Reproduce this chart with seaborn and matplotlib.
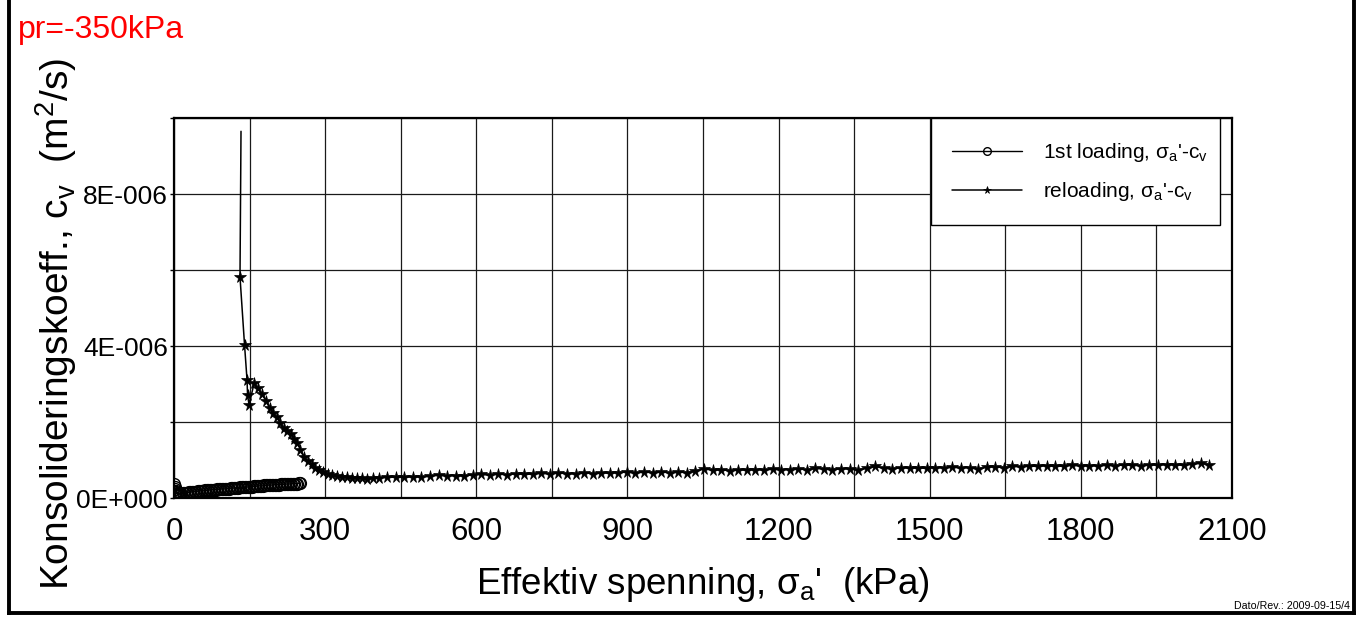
import matplotlib
matplotlib.use("Agg")
import matplotlib.pyplot as plt
from matplotlib.lines import Line2D
from matplotlib.patches import Rectangle
from matplotlib.ticker import FixedLocator, FixedFormatter, MultipleLocator
import seaborn as sns
import pandas as pd

# ---- data: effective stress (kPa) and consolidation coefficient (1e-6 m2/s) ----
load_stress = [0, 1, 2, 3, 4, 5, 6, 8, 10, 12,
               14, 17, 20, 23, 26, 29, 32, 35, 38, 41,
               44, 47, 50, 53, 56, 59, 62, 65, 68, 71,
               74, 77, 80, 83, 86, 89, 92, 95, 98, 101,
               104, 107, 110, 113, 116, 119, 122, 125, 128, 131,
               134, 137, 140, 143, 146, 149, 152, 155, 158, 161,
               164, 167, 170, 173, 176, 179, 182, 185, 188, 191,
               194, 197, 200, 203, 206, 209, 212, 215, 218, 221,
               224, 227, 230, 233, 236, 239, 242, 245, 248, 251]
load_cv = [0.36, 0.30, 0.24, 0.19, 0.15, 0.13, 0.11, 0.10, 0.10, 0.11,
           0.11, 0.12, 0.13, 0.13, 0.14, 0.15, 0.15, 0.16, 0.16, 0.17,
           0.17, 0.18, 0.18, 0.19, 0.19, 0.19, 0.20, 0.20, 0.21, 0.21,
           0.21, 0.22, 0.22, 0.22, 0.23, 0.23, 0.23, 0.24, 0.24, 0.24,
           0.25, 0.25, 0.25, 0.26, 0.26, 0.26, 0.27, 0.27, 0.27, 0.28,
           0.28, 0.28, 0.29, 0.29, 0.29, 0.30, 0.30, 0.30, 0.31, 0.31,
           0.31, 0.32, 0.32, 0.32, 0.32, 0.33, 0.33, 0.33, 0.34, 0.34,
           0.34, 0.34, 0.35, 0.35, 0.35, 0.35, 0.36, 0.36, 0.36, 0.36,
           0.37, 0.37, 0.37, 0.37, 0.38, 0.38, 0.38, 0.38, 0.39, 0.39]

reload_stress = [133, 131, 140, 145, 146, 149, 159, 166, 175, 183,
                 190, 197, 204, 211, 218, 225, 232, 239, 245, 251,
                 258, 265, 273, 280, 288, 296, 305, 314, 323, 333,
                 343, 353, 363, 373, 384, 395,
                 406, 423, 440, 457, 474, 491, 508, 525, 542, 559,
                 576, 593, 610, 627, 644, 661, 678, 695, 712, 729,
                 746, 763, 780, 797, 814, 831, 848, 865, 882, 899,
                 916, 933, 950, 967, 984, 1001, 1018, 1035, 1052, 1069,
                 1086, 1103, 1120, 1137, 1154, 1171, 1188, 1205, 1222, 1239,
                 1256, 1273, 1290, 1307, 1324, 1341, 1358, 1375, 1392, 1409,
                 1426, 1443, 1460, 1477, 1494, 1511, 1528, 1545, 1562, 1579,
                 1596, 1613, 1630, 1647, 1664, 1681, 1698, 1715, 1732, 1749,
                 1766, 1783, 1800, 1817, 1834, 1851, 1868, 1885, 1902, 1919,
                 1936, 1953, 1970, 1987, 2004, 2021, 2038, 2055]
reload_cv = [9.65, 5.82, 4.03, 3.10, 2.71, 2.45, 3.02, 2.89, 2.73, 2.55,
             2.36, 2.24, 2.12, 1.98, 1.83, 1.76, 1.68, 1.56, 1.44, 1.27,
             1.07, 0.98, 0.89, 0.80, 0.74, 0.69, 0.64, 0.60, 0.58, 0.56,
             0.55, 0.53, 0.52, 0.52, 0.51, 0.52,
             0.53, 0.54, 0.55, 0.54, 0.56, 0.55, 0.57, 0.60, 0.58, 0.59,
             0.58, 0.61, 0.62, 0.60, 0.63, 0.61, 0.64, 0.62, 0.63, 0.65,
             0.63, 0.66, 0.64, 0.63, 0.67, 0.64, 0.66, 0.65, 0.67, 0.68,
             0.66, 0.68, 0.67, 0.69, 0.66, 0.68, 0.67, 0.70, 0.77, 0.73,
             0.74, 0.72, 0.74, 0.73, 0.75, 0.73, 0.76, 0.74, 0.75, 0.77,
             0.74, 0.78, 0.76, 0.75, 0.77, 0.76, 0.74, 0.78, 0.83, 0.78,
             0.77, 0.80, 0.78, 0.79, 0.78, 0.80, 0.79, 0.81, 0.79, 0.80,
             0.76, 0.81, 0.82, 0.80, 0.83, 0.82, 0.84, 0.83, 0.85, 0.83,
             0.84, 0.86, 0.84, 0.85, 0.84, 0.86, 0.85, 0.87, 0.86, 0.85,
             0.87, 0.86, 0.88, 0.87, 0.86, 0.89, 0.91, 0.88]

x_ticks = [0, 300, 600, 900, 1200, 1500, 1800, 2100]
y_ticks = [0.0, 4e-6, 8e-6]
y_ticklabels = ["0E+000", "4E-006", "8E-006"]

series_labels = ["1st loading, σ$_\\mathregular{a}$'-c$_\\mathregular{v}$",
                 "reloading, σ$_\\mathregular{a}$'-c$_\\mathregular{v}$"]

load_df = pd.DataFrame({"stress": load_stress,
                        "cv": [v * 1e-6 for v in load_cv]})
reload_df = pd.DataFrame({"stress": reload_stress,
                          "cv": [v * 1e-6 for v in reload_cv]})

sns.set_style("white")
plt.rcParams["font.family"] = ["Liberation Sans", "DejaVu Sans"]
plt.rcParams["mathtext.fontset"] = "custom"
plt.rcParams["mathtext.rm"] = "Liberation Sans"
plt.rcParams["mathtext.it"] = "Liberation Sans:italic"
for key in ["text.color", "axes.labelcolor", "xtick.color", "ytick.color"]:
    plt.rcParams[key] = "black"

W, H = 1367, 619
fig = plt.figure(figsize=(W / 100, H / 100), dpi=100)
ax = fig.add_axes([174 / W, 1 - 498 / H, 1058 / W, 380 / H])

sns.lineplot(data=load_df, x="stress", y="cv", sort=False, estimator=None,
             ax=ax, color="black", lw=1.0, marker="o", ms=8.5,
             mfc="none", mec="black", mew=1.0, label=series_labels[0])
sns.lineplot(data=reload_df, x="stress", y="cv", sort=False, estimator=None,
             ax=ax, color="black", lw=1.1, marker="*", ms=8.5,
             mfc="black", mec="black", mew=0.5, markevery=slice(1, None),
             label=series_labels[1])

ax.set_xlim(0, 2100)
ax.set_ylim(0, 1e-5)
ax.xaxis.set_major_locator(FixedLocator(x_ticks))
ax.xaxis.set_minor_locator(MultipleLocator(150))
ax.yaxis.set_major_locator(FixedLocator(y_ticks))
ax.yaxis.set_major_formatter(FixedFormatter(y_ticklabels))
ax.yaxis.set_minor_locator(MultipleLocator(2e-6))
ax.grid(True, which="both", color="#1a1a1a", lw=0.9)
ax.set_axisbelow(True)
ax.tick_params(axis="x", which="both", length=0, pad=14, labelsize=22.5)
ax.tick_params(axis="y", which="both", direction="out", length=3, width=1,
               left=True, pad=1.5, labelsize=19)
for s in ax.spines.values():
    s.set_color("black")
    s.set_linewidth(1.6)

ax.set_xlabel("Effektiv spenning, σ$_\\mathregular{a}$'  (kPa)", fontsize=26.5)
ax.xaxis.set_label_coords(0.5, -0.175)
ax.set_ylabel("Konsolideringskoeff., c$_\\mathregular{v}$  (m$^\\mathregular{2}$/s)",
              fontsize=28)
ax.yaxis.set_label_coords(-0.09, 0.458)

# legend box, then the entries placed inside it
ax.add_patch(Rectangle((931 / W, 1 - 225 / H), 289 / W, 107 / H,
                       transform=fig.transFigure, facecolor="white",
                       edgecolor="black", lw=1.0, zorder=4.5, clip_on=False))
leg = ax.legend(loc="upper left", bbox_to_anchor=(952 / W, 1 - 141 / H),
                bbox_transform=fig.transFigure, fontsize=15, frameon=False,
                handlelength=3.35, handletextpad=1.0, labelspacing=0.78,
                borderpad=0, borderaxespad=0, markerscale=0.65)
leg.set_zorder(5)

fig.text(18 / W, 1 - 38 / H, "pr=-350kPa", color="#ff0000", fontsize=23,
         ha="left", va="baseline")
fig.text(1350 / W, 1 - 609 / H, "Dato/Rev.: 2009-09-15/4", fontsize=7.7,
         ha="right", va="baseline")

# page frame: left, right and bottom edges
for xs, ys in [([8.5, 8.5], [0, 613]), ([1354, 1354], [0, 613]),
               ([8.5, 1354], [613, 613])]:
    fig.add_artist(Line2D([x / W for x in xs], [1 - y / H for y in ys],
                          transform=fig.transFigure, color="black", lw=2.8,
                          solid_capstyle="projecting"))

fig.savefig("out.png", dpi=100)
